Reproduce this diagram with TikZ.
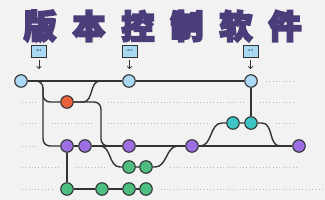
\documentclass[tikz,border=0pt]{standalone}
\usepackage{fontspec}
\newfontfamily\cjk{Noto Sans CJK SC}[FakeBold=4,BoldFeatures={FakeBold=6}]
\usepackage{tikz}
\usetikzlibrary{arrows.meta,backgrounds}
\definecolor{bgc}{HTML}{F2F2F2}
\definecolor{edge}{HTML}{333333}
\definecolor{dotc}{HTML}{B8B8B8}
\definecolor{ink}{HTML}{4B3C7A}
\definecolor{relc}{HTML}{A9D9F2}
\definecolor{hotc}{HTML}{E9603D}
\definecolor{featc}{HTML}{9D6FE3}
\definecolor{fixc}{HTML}{4DBE80}
\definecolor{devc}{HTML}{3DC4C4}
\tikzset{
  >={Straight Barb[length=2pt,width=4.5pt]},
  commit/.style={circle,draw=edge,line width=1.1pt,minimum size=12.5pt,inner sep=0pt},
  relnode/.style={commit,fill=relc},
  hotnode/.style={commit,fill=hotc},
  featnode/.style={commit,fill=featc},
  fixnode/.style={commit,fill=fixc},
  devnode/.style={commit,fill=devc},
  branch/.style={draw=edge,line width=1.4pt},
  halo/.style={draw=bgc,line width=14pt},
  guide/.style={draw=dotc,line width=0.9pt,dash pattern=on 0.9pt off 2.4pt},
  tagbox/.style={draw=edge,fill=relc,line width=0.7pt,minimum width=15pt,minimum height=12pt,inner sep=0pt,font=\fontsize{3}{3}\selectfont\sffamily},
  tagarr/.style={->,draw=edge,line width=0.8pt},
  titlech/.style={font=\cjk\bfseries\fontsize{33}{33}\selectfont,text=ink,inner sep=0pt},
}
% all branch paths, drawn once as halo and once as line
\newcommand\gitlines[1]{%
  \draw[#1] (v01) -- (v02) -- (v10);
  \draw[#1,rounded corners=7pt] (b1) -| (43,120) |- (m1);
  \draw[#1,rounded corners=7pt] (43,88) |- (hot);
  \draw[#1] (hot) -- (83,102) to[out=0,in=180] (100,81);
  \draw[#1,rounded corners=7pt] (hot) -| (101,130) |- (m3);
  \draw[#1] (m1) -- (m2) -- (m3) -- (m4) -- (m5);
  \draw[#1] (m1) -- (g1);
  \draw[#1] (g1) -- (g2) -- (g3) -- (g4);
  \draw[#1] (b2) to[out=0,in=180] (120,167) -- (f1) -- (f2) -- (155,167) to[out=0,in=180] (178,146);
  \draw[#1] (b3) to[out=0,in=180] (222,123) -- (t1) -- (t2) -- (262,123) to[out=0,in=180] (280,146);
  \draw[#1] (v10) -- (t2);
}

\begin{document}
\begin{tikzpicture}[x=1pt,y=-1pt]
\useasboundingbox (0,0) rectangle (325,200);
% title
\foreach \ch [count=\i] in {版,本,控,制,软,件}
  \node[titlech] (ch\i) at ({40+49*(\i-1)},26) {\ch};
% version tags
\node[tagbox] (tag1) at (39,51) {v0.1};
\node[tagbox] (tag2) at (129.5,51) {v0.2};
\node[tagbox] (tag3) at (250.5,51) {v1.0};
\coordinate (a1) at (39,69);
\coordinate (a2) at (129.5,69);
\coordinate (a3) at (250.5,69);
\foreach \i in {1,2,3}
  \draw[tagarr,shorten <=3pt] (tag\i) -- (a\i);
% commits
\node[relnode] (v01) at (21,81) {};
\node[relnode] (v02) at (129,81) {};
\node[relnode] (v10) at (251,81) {};
\node[hotnode] (hot) at (67,102) {};
\node[devnode] (t1) at (233,123) {};
\node[devnode] (t2) at (251,123) {};
\node[featnode] (m1) at (67,146) {};
\node[featnode] (m2) at (85,146) {};
\node[featnode] (m3) at (129,146) {};
\node[featnode] (m4) at (192,146) {};
\node[featnode] (m5) at (299,146) {};
\node[fixnode] (f1) at (129,167) {};
\node[fixnode] (f2) at (146,167) {};
\node[fixnode] (g1) at (67,189) {};
\node[fixnode] (g2) at (102,189) {};
\node[fixnode] (g3) at (129,189) {};
\node[fixnode] (g4) at (146,189) {};
\coordinate (b1) at (30,81);
\coordinate (b2) at (100,146);
\coordinate (b3) at (200,146);
\gitlines{branch}
\begin{pgfonlayer}{background}
\fill[bgc] (0,0) rectangle (325,200);
\foreach \y/\e in {81/295,102/295,123/295,146/295,167/297,189/325}
  \draw[guide] (22,\y) -- (\e,\y);
\gitlines{halo}
\foreach \n in {v01,v02,v10,hot,t1,t2,m1,m2,m3,m4,m5,f1,f2,g1,g2,g3,g4}
  \fill[bgc] (\n) circle (13pt);
\end{pgfonlayer}
\end{tikzpicture}
\end{document}
